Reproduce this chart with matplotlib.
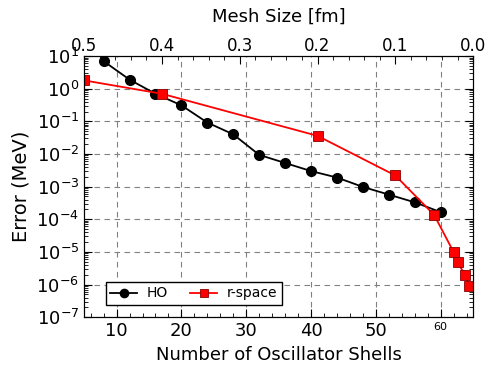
import matplotlib
matplotlib.use('Agg')
import matplotlib.pyplot as plt
from matplotlib.ticker import MultipleLocator, LogLocator, NullFormatter

# HO basis: error vs number of oscillator shells
ho_shells = [8, 12, 16, 20, 24, 28, 32, 36, 40, 44, 48, 52, 56, 60]
ho_error = [7.0, 1.9, 0.70, 0.31, 0.092, 0.040, 0.0094, 0.0053, 0.0030,
            0.0019, 0.00098, 0.00057, 0.00033, 0.000165]

# r-space: error vs mesh size
rs_mesh = [0.5, 0.4, 0.2, 0.1, 0.05, 0.025, 0.02, 0.01, 0.005]
rs_error = [1.8, 0.70, 0.036, 0.0022, 0.000135, 9.8e-6, 4.8e-6, 1.9e-6, 9.3e-7]

top_ticks = [0.5, 0.4, 0.3, 0.2, 0.1, 0.0]


def mesh_to_shells(m):
    # top axis is linear: 0.5 fm -> 5 shells, 0.0 fm -> 65 shells
    return 5 + (0.5 - m) * 120


fig = plt.figure(figsize=(4.98, 3.74), dpi=100)
ax = fig.add_axes([0.169, 0.152, 0.781, 0.698])

ax.semilogy(ho_shells, ho_error, 'k-', marker='o', markersize=7, linewidth=1.3, label='HO')
rs_x = [mesh_to_shells(m) for m in rs_mesh]
ax.semilogy(rs_x, rs_error, '-', color='red', marker='s', markersize=7,
            markerfacecolor='red', markeredgecolor='#8b0000', markeredgewidth=0.6,
            linewidth=1.3, label='r-space')

ax.set_xlim(5, 65)
ax.set_ylim(1e-7, 1e1)
ax.xaxis.set_major_locator(MultipleLocator(10))
ax.xaxis.set_minor_locator(MultipleLocator(2))
ax.yaxis.set_major_locator(LogLocator(base=10, numticks=20))
ax.yaxis.set_minor_locator(LogLocator(base=10, subs=range(2, 10), numticks=20))
ax.yaxis.set_minor_formatter(NullFormatter())
ax.tick_params(which='both', direction='in', right=True, labelsize=13)
ax.tick_params(which='major', length=6)
ax.tick_params(which='minor', length=3)
ax.grid(True, which='major', color='gray', linestyle=(0, (5, 4)), linewidth=0.8)

fig.canvas.draw()
for lab in ax.get_xticklabels():
    if lab.get_text() in ('60', '$\\mathdefault{60}$'):
        lab.set_fontsize(8)

ax.set_xlabel('Number of Oscillator Shells', fontsize=13)
ax.set_ylabel('Error (MeV)', fontsize=14)

# top axis with mesh size
ax2 = ax.twiny()
ax2.set_xlim(ax.get_xlim())
ax2.set_xticks([mesh_to_shells(m) for m in top_ticks])
ax2.set_xticklabels([f'{m:.1f}' for m in top_ticks])
ax2.set_xticks([mesh_to_shells(m / 100) for m in range(0, 51, 2)], minor=True)
ax2.tick_params(which='both', direction='in', labelsize=12, pad=1)
ax2.tick_params(which='major', length=6)
ax2.tick_params(which='minor', length=3)
ax2.set_xlabel('Mesh Size [fm]', fontsize=13, labelpad=11)

leg = ax.legend(loc='lower left', ncol=2, fontsize=10, fancybox=False,
                edgecolor='black', framealpha=1, bbox_to_anchor=(0.056, 0.048),
                borderaxespad=0, handlelength=1.95, handletextpad=0.7,
                columnspacing=1.6, borderpad=0.3, markerscale=0.85)
leg.get_frame().set_linewidth(1.0)

fig.savefig('out.png', dpi=100, facecolor='white')
